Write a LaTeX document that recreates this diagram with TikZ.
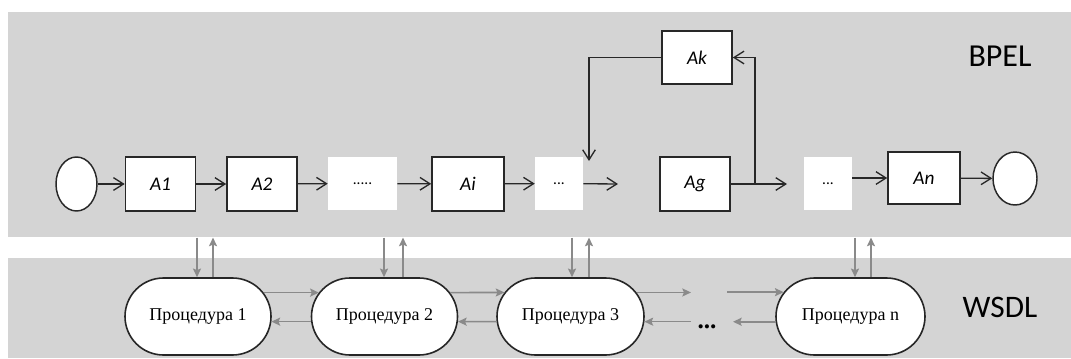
\documentclass[tikz,border=0pt]{standalone}
\usepackage{fontspec}
\setmainfont{Liberation Serif}
\newfontfamily\calibrifont{Carlito}
\usetikzlibrary{arrows.meta,shapes.geometric,shapes.misc,positioning}

\definecolor{bandgray}{RGB}{212,212,212}
\definecolor{linkgray}{RGB}{138,138,138}
\definecolor{inkgray}{RGB}{40,40,40}

\tikzset{
  band/.style={fill=bandgray, draw=none, inner sep=0pt, anchor=north west},
  act/.style={draw=inkgray, line width=1.2pt, fill=white, inner sep=0pt,
    minimum width=52.5pt, minimum height=40.5pt,
    font=\calibrifont\itshape\fontsize{14.5}{17}\selectfont},
  blank/.style={fill=white, inner sep=0pt, minimum height=39.75pt,
    font=\calibrifont\fontsize{11.5}{13}\selectfont},
  terminal/.style={ellipse, draw=inkgray, line width=1.1pt, fill=white, inner sep=0pt},
  flow/.style={draw=inkgray, line width=1pt, -{Straight Barb[length=7.5pt,width=9.5pt]}},
  proc/.style={rounded rectangle, draw=black!85, line width=1.2pt, fill=white,
    inner sep=0pt, minimum width=109.5pt, minimum height=57.75pt,
    font=\fontsize{13.5}{15}\selectfont},
  call/.style={draw=linkgray, line width=1.2pt, -{Stealth[length=6.5pt,width=6pt,inset=1.2pt]}},
  tierlabel/.style={inner sep=0pt, font=\calibrifont\fontsize{24}{28}\selectfont}
}

\begin{document}
\begin{tikzpicture}[x=0.75pt, y=-0.75pt]
  \useasboundingbox (0,0) rectangle (1071,358);

  % the two layers
  \node[band, minimum width=797.25pt, minimum height=168.75pt] (bpelband) at (8,12) {};
  \node[band, minimum width=797.25pt, minimum height=75pt] (wsdlband) at (8,258) {};
  \node[tierlabel] (bpel) at (1000,56) {BPEL};
  \node[tierlabel, font=\calibrifont\fontsize{23.5}{28}\selectfont] (wsdl) at (1000,307) {WSDL};

  % BPEL process
  \node[terminal, minimum width=30.75pt, minimum height=40.5pt] (start) at (76.5,184) {};
  \node[act] (a1) at (160.5,184) {A1};
  \node[act] (a2) at (262,184) {A2};
  \node[blank, minimum width=51.75pt] (dots1) at (362.5,183.5) {.....};
  \node[act, minimum width=54pt] (ai) at (468,184) {Ai};
  \node[blank, minimum width=36pt] (dots2) at (559,183.5) {...};
  \node[act] (ag) at (695,184) {Ag};
  \node[act, minimum height=39.75pt] (ak) at (697,57.5) {Ak};
  \node[blank, minimum width=36pt] (dots3) at (828,183.5) {...};
  \node[act, minimum width=54pt, minimum height=39pt] (an) at (924,178) {An};
  \node[terminal, minimum width=33pt, minimum height=39.75pt] (finish) at (1015,178.5) {};

  \coordinate (dots2out) at (618,184);
  \coordinate (agsplit) at (755,184);
  \coordinate (agout) at (787,184);
  \coordinate (akdrop) at (589,161);

  \draw[flow] (start) -- (a1);
  \draw[flow] (a1) -- (a2);
  \draw[flow] (a2) -- (dots1);
  \draw[flow] (dots1) -- (ai);
  \draw[flow] (ai) -- (dots2);
  \draw[flow] (dots2) -- (dots2out);
  \draw[flow] (ag) -- (agout);
  \draw[flow] (agsplit) |- (ak); % loop back
  \draw[flow] (ak) -| (akdrop);
  \draw[flow] (dots3.east |- an) -- (an);
  \draw[flow] (an) -- (finish);

  % WSDL procedures
  \node[proc] (p1) at (198,316.5) {Процедура 1};
  \node[proc] (p2) at (384.5,316.5) {Процедура 2};
  \node[proc, minimum width=110.25pt] (p3) at (570.5,316.5) {Процедура 3};
  \node[proc, minimum width=111.75pt] (pn) at (850.5,316.5) {Процедура n};
  \node[inner sep=0pt, font=\bfseries\fontsize{19}{20}\selectfont] (more) at (707,327) {...};

  \coordinate (gapa) at (691,293);
  \coordinate (gapb) at (727,293);
  \coordinate (gapc) at (691,322);
  \coordinate (gapd) at (733,322);

  \draw[call] (p1.20) -- (p2.160);
  \draw[call] (p2.184) -- (p1.356);
  \draw[call] (p2.20) -- (p3.160);
  \draw[call] (p3.184) -- (p2.356);
  \draw[call] (p3.20) -- (p3.20 -| gapa);
  \draw[call] (gapb |- pn.160) -- (pn.160);
  \draw[call] (p3.356 -| gapc) -- (p3.356);
  \draw[call] (pn.184) -- (pn.184 -| gapd);

  % calls between the layers
  \foreach \p/\xd/\xu in {p1/197/213, p2/384/403, p3/572/589, pn/855/871}{
    \coordinate (dn) at (\xd,0);
    \coordinate (up) at (\xu,0);
    \draw[call] (dn |- bpelband.south) -- (dn |- \p.north);
    \draw[call] (up |- \p.north) -- (up |- bpelband.south);
  }
\end{tikzpicture}
\end{document}
